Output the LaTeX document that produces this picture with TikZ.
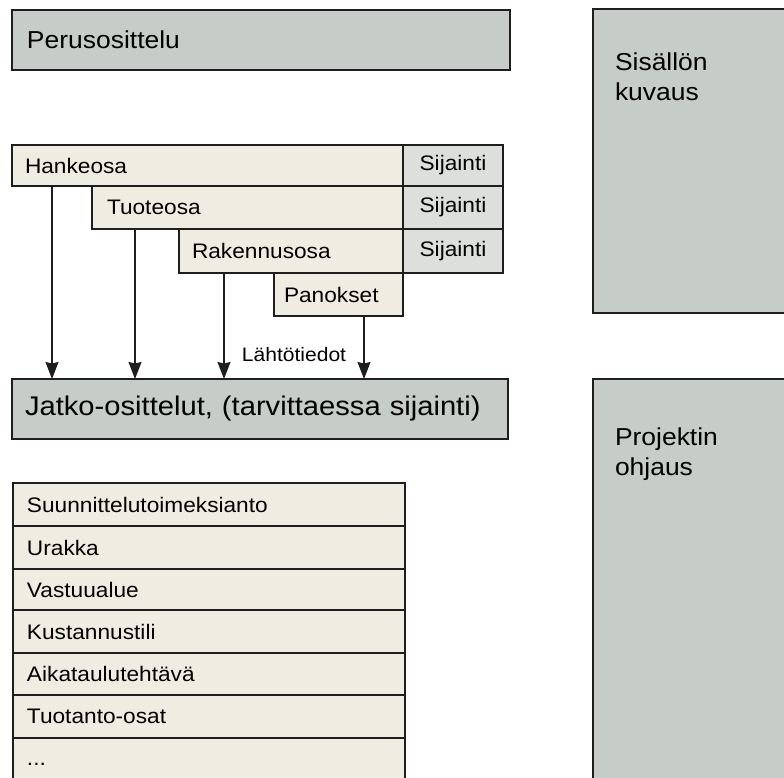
\documentclass[tikz,border=0pt]{standalone}
\usepackage{fontspec}
\setmainfont[FakeStretch=1.08]{Liberation Sans}
\usetikzlibrary{arrows.meta}

\definecolor{harmaa}{HTML}{C6CCC8}
\definecolor{beige}{HTML}{EFECE2}
\definecolor{vaalea}{HTML}{DCDFDC}
\definecolor{viiva}{HTML}{1E1E1E}

\newcommand\isofontti{\fontsize{24.5}{30}\selectfont}
\newcommand\jatkofontti{\fontsize{27}{30}\selectfont}
\newcommand\rivifontti{\fontsize{21}{25}\selectfont}
\newcommand\pienifontti{\fontsize{19.5}{22}\selectfont}

\begin{document}
\begin{tikzpicture}[x=1pt,y=-1pt]
        \tikzstyle{every node}=[draw=viiva, line width=1.3pt, anchor=north west, outer sep=0pt, inner ysep=0pt, align=left]
        \tikzstyle{osa}=[fill=beige, font=\rivifontti]
        \tikzstyle{sijainti}=[fill=vaalea, font=\rivifontti, inner xsep=0pt, text width=100pt, align=center]
        \tikzstyle{rivi}=[fill=beige, font=\rivifontti, inner xsep=14pt, text width=364pt]
        \tikzstyle{teksti}=[draw=none, inner sep=0pt]
        \tikzstyle{nuoli}=[-{Stealth[length=17pt, width=13pt, inset=1.5pt]}, line width=1.3pt, draw=viiva]

        \clip (0,0) rectangle (784,778);

        % osittelut
        \node (peru)  [fill=harmaa, font=\isofontti, inner xsep=15pt, text width=468pt, minimum height=60pt] at (12,10) {Perusosittelu};

        \node (hanke) [osa, inner xsep=13pt, text width=365pt, minimum height=41pt] at (12,145) {Hankeosa};
        \node (tuote) [osa, inner xsep=15pt, text width=281pt, minimum height=43pt] at (92,186) {Tuoteosa};
        \node (rak)   [osa, inner xsep=13pt, text width=198pt, minimum height=44pt] at (179,229) {Rakennusosa};
        \node (pan)   [osa, inner xsep=10pt, text width=109pt, minimum height=43pt] at (274,273) {Panokset};
        \node (sij1)  [sijainti, minimum height=41pt] at (403,145) {Sijainti};
        \node (sij2)  [sijainti, minimum height=43pt] at (403,186) {Sijainti};
        \node (sij3)  [sijainti, minimum height=44pt] at (403,229) {Sijainti};

        \node (jatko) [fill=harmaa, font=\jatkofontti, inner xsep=13pt, text width=470pt, minimum height=60pt] at (12,379) {Jatko-osittelut, (tarvittaessa sijainti)};

        \path ([xshift=40pt]hanke.south west) edge[nuoli] ([xshift=40pt]hanke.south west |- jatko.north)
              ([xshift=43pt]tuote.south west) edge[nuoli] ([xshift=43pt]tuote.south west |- jatko.north)
              ([xshift=45pt]rak.south west) edge[nuoli] ([xshift=45pt]rak.south west |- jatko.north)
              ([xshift=90pt]pan.south west) edge[nuoli] ([xshift=90pt]pan.south west |- jatko.north);
        \node (lahto) [teksti, anchor=center, font=\pienifontti] at (294,355) {Lähtötiedot};

        % luettelo
        \node (r1) [rivi, minimum height=43pt] at (13,483) {Suunnittelutoimeksianto};
        \node (r2) [rivi, minimum height=43pt] at (13,526) {Urakka};
        \node (r3) [rivi, minimum height=41pt] at (13,569) {Vastuualue};
        \node (r4) [rivi, minimum height=43pt] at (13,610) {Kustannustili};
        \node (r5) [rivi, minimum height=42pt] at (13,653) {Aikataulutehtävä};
        \node (r6) [rivi, minimum height=43pt] at (13,695) {Tuotanto-osat};
        \node (r7) [rivi, minimum height=52pt] at (13,738) {...};

        % oikea reuna
        \node (kuvaus) [fill=harmaa, minimum width=230pt, minimum height=304pt] at (593,9) {};
        \node (kuvausteksti) [teksti, font=\isofontti] at ([shift={(22,44)}]kuvaus.north west) {Sisällön\\kuvaus};
        \node (ohjaus) [fill=harmaa, minimum width=230pt, minimum height=440pt] at (593,379) {};
        \node (ohjausteksti) [teksti, font=\isofontti] at ([shift={(22,49)}]ohjaus.north west) {Projektin\\ohjaus};

\end{tikzpicture}
\end{document}
